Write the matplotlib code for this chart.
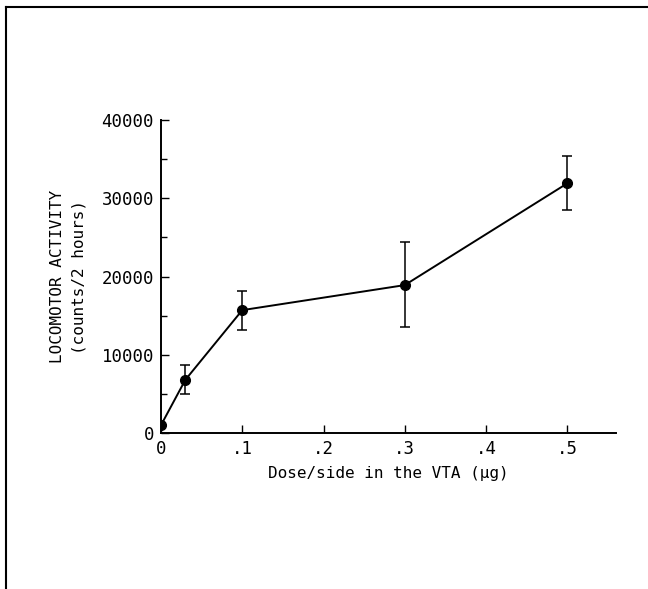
import numpy as np
import matplotlib
matplotlib.use("Agg")
import matplotlib.pyplot as plt
from matplotlib.lines import Line2D

# dose per side (ug) and locomotor counts
dose = [0.0, 0.03, 0.1, 0.3, 0.5]
counts = [1000, 6800, 15700, 18900, 31900]
err_hi = [0, 1900, 2500, 5500, 3500]
err_lo = [0, 1800, 2500, 5400, 3400]

xticks = [0, 0.1, 0.2, 0.3, 0.4, 0.5]
xticklabels = ["0", ".1", ".2", ".3", ".4", ".5"]
yticks = [0, 10000, 20000, 30000, 40000]

plt.rcParams['font.family'] = ['DejaVu Sans Mono', 'DejaVu Sans']

fig = plt.figure(figsize=(6.48, 5.89), dpi=100)
ax = fig.add_axes([161/648, 1 - 433/589, (616 - 161)/648, (433 - 120)/589])

ax.errorbar(dose, counts, yerr=[err_lo, err_hi], fmt='o-', color='black',
            ms=7, lw=1.4, elinewidth=1.1, capsize=3.5, capthick=1.1)

ax.set_xlim(0, 0.56)
ax.set_ylim(0, 40000)
ax.set_xticks(xticks)
ax.set_xticklabels(xticklabels)
ax.set_yticks(yticks)
ax.set_yticks(np.arange(5000, 40000, 10000), minor=True)

for side in ['top', 'right']:
    ax.spines[side].set_visible(False)
for side in ['left', 'bottom']:
    ax.spines[side].set_linewidth(1.4)

ax.tick_params(axis='both', direction='in', length=6, width=1, labelsize=12.5, pad=5)
ax.tick_params(axis='y', which='minor', direction='in', length=4, width=1)

ax.set_xlabel("Dose/side in the VTA (\u03bcg)", fontsize=11.5, labelpad=6)
ax.set_ylabel("LOCOMOTOR ACTIVITY\n(counts/2 hours)", fontsize=11.5, labelpad=11,
              linespacing=1.55)

# scanned page border (top and left edges)
fig.add_artist(Line2D([6/648, 1.0], [1 - 7/589, 1 - 7/589], color='black', lw=1.5,
                      transform=fig.transFigure))
fig.add_artist(Line2D([6/648, 6/648], [0.0, 1 - 7/589], color='black', lw=1.5,
                      transform=fig.transFigure))

fig.savefig("out.png", dpi=100)
